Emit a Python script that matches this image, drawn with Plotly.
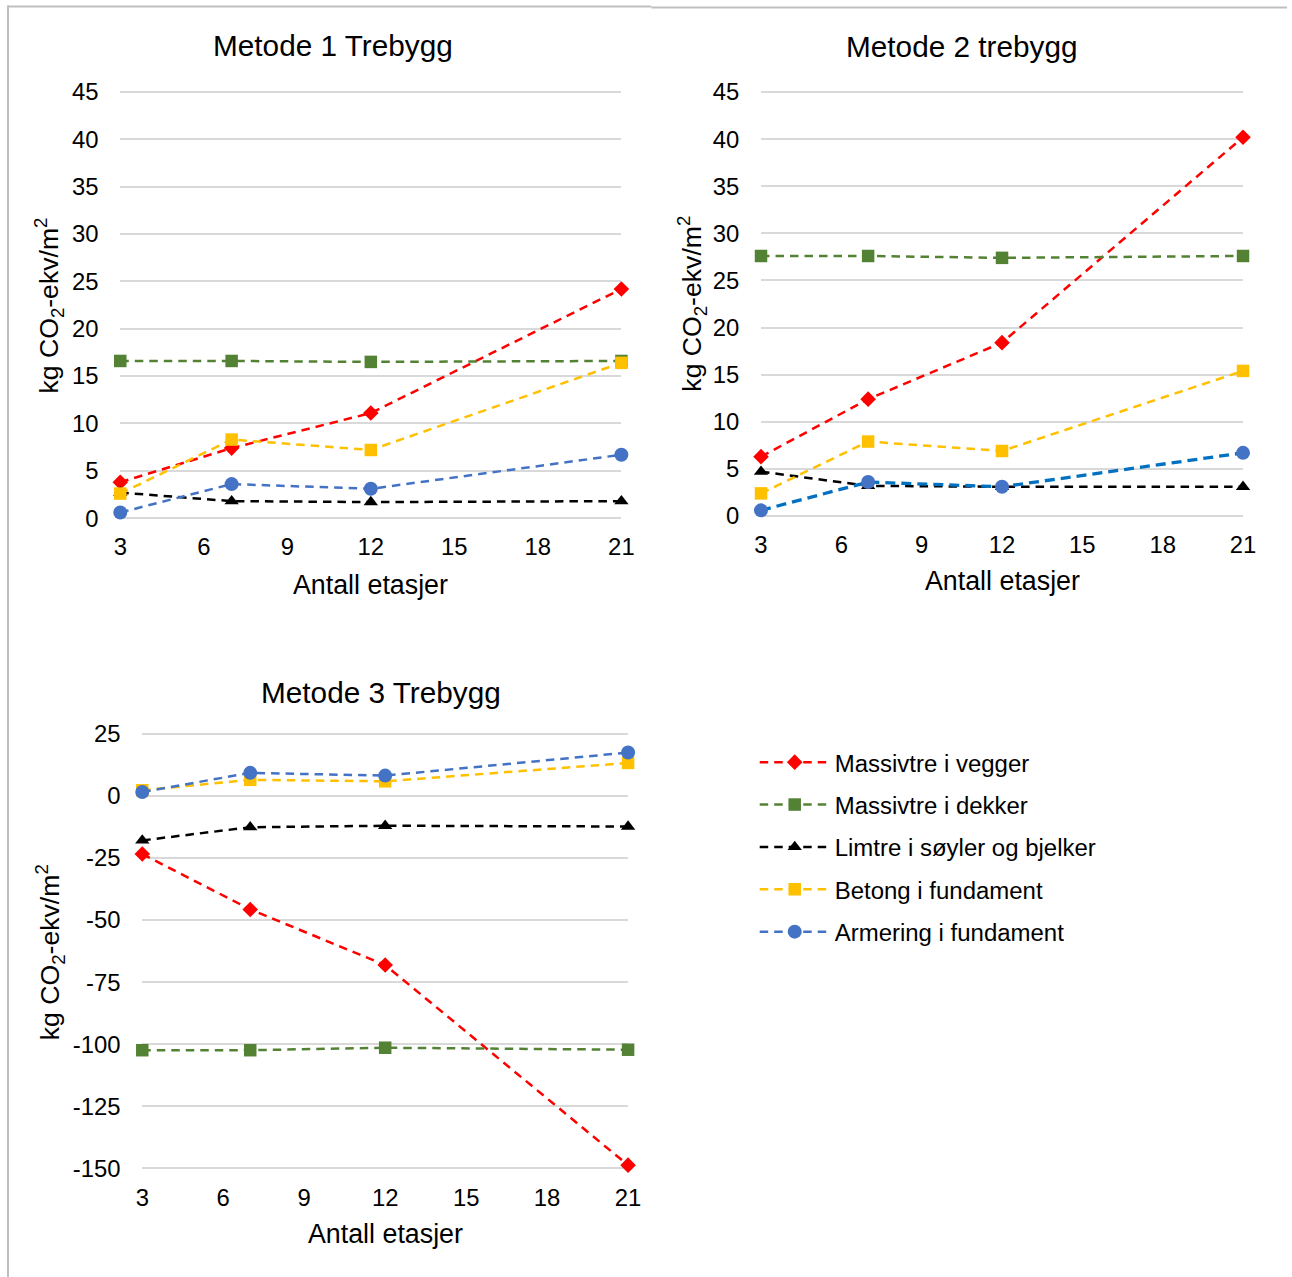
import plotly.graph_objects as go

# Figure canvas size and the measured placement of the figure on the final picture
FW, FH = 1300, 1290
SX, OX = 0.9844, 6.75
SY, OY = 0.9826, 11.6

floors = [3, 7, 12, 21]
x_ticks = [3, 6, 9, 12, 15, 18, 21]

series_names = ["Massivtre i vegger", "Massivtre i dekker", "Limtre i søyler og bjelker",
                "Betong i fundament", "Armering i fundament"]

m1_vegger = [3.8, 7.4, 11.1, 24.2]
m1_dekker = [16.6, 16.6, 16.5, 16.6]
m1_limtre = [2.7, 1.8, 1.7, 1.8]
m1_betong = [2.6, 8.3, 7.2, 16.4]
m1_armering = [0.6, 3.6, 3.1, 6.7]

m2_vegger = [6.3, 12.4, 18.4, 40.2]
m2_dekker = [27.6, 27.6, 27.4, 27.6]
m2_limtre = [4.7, 3.2, 3.1, 3.1]
m2_betong = [2.4, 7.9, 6.9, 15.4]
m2_armering = [0.6, 3.6, 3.1, 6.7]

m3_vegger = [-23.4, -45.7, -68.1, -148.7]
m3_dekker = [-102.4, -102.4, -101.4, -102.2]
m3_limtre = [-17.9, -12.6, -12.0, -12.3]
m3_betong = [2.3, 6.5, 5.9, 13.3]
m3_armering = [1.6, 9.3, 8.2, 17.5]

y12_ticks = [0, 5, 10, 15, 20, 25, 30, 35, 40, 45]
y3_ticks = [25, 0, -25, -50, -75, -100, -125, -150]
y3_ticktext = ["25", "0", "-25", "-50", "-75", "-100", "-125", "-150"]

titles = ["Metode 1 Trebygg", "Metode 2 trebygg", "Metode 3 Trebygg"]
x_title = "Antall etasjer"
y_title = "kg CO<sub>2</sub>-ekv/m<sup>2</sup>"

FONT = "Liberation Sans, Arial, sans-serif"

colors = ["#FF0000", "#548235", "#000000", "#FFC000", "#4472C4"]
symbols = ["diamond", "square", "triangle-up", "square", "circle"]
msizes = [12, 12.5, 12.5, 12.5, 14]


def fx(x):
    """target picture x (px) -> figure x (px)"""
    return (x - OX) / SX


def fy(y):
    return (y - OY) / SY


def pxx(x):
    return fx(x) / FW


def pxy(y):
    return 1 - fy(y) / FH


def fs(size):
    return size / SX


def xdomain(p_lo, p_hi):
    return [pxx(p_lo), pxx(p_hi)]


def ydomain(v1, p1, v2, p2, lo, hi):
    k = (p2 - p1) / (v2 - v1)
    a = p1 + (lo - v1) * k
    b = p1 + (hi - v1) * k
    return [pxy(max(a, b)), pxy(min(a, b))]


panels = [
    dict(data=[m1_vegger, m1_dekker, m1_limtre, m1_betong, m1_armering],
         xd=xdomain(120, 621), yd=ydomain(0, 518, 45, 91.6, -0.2, 45.2), yr=[-0.2, 45.2],
         yt=y12_ticks, ytt=[str(v) for v in y12_ticks]),
    dict(data=[m2_vegger, m2_dekker, m2_limtre, m2_betong, m2_armering],
         xd=xdomain(760.6, 1242.5), yd=ydomain(0, 515.8, 45, 91.7, -0.2, 45.2), yr=[-0.2, 45.2],
         yt=y12_ticks, ytt=[str(v) for v in y12_ticks]),
    dict(data=[m3_vegger, m3_dekker, m3_limtre, m3_betong, m3_armering],
         xd=xdomain(142, 627.7), yd=ydomain(25, 733.8, -150, 1168.5, -150.8, 25.8), yr=[-150.8, 25.8],
         yt=y3_ticks, ytt=y3_ticktext),
]

fig = go.Figure()

for pi, p in enumerate(panels):
    sfx = "" if pi == 0 else str(pi + 1)
    for si, vals in enumerate(p["data"]):
        lc = colors[si]
        lw = 2.5
        dash = "8.5px,6px"
        if pi == 1 and si == 4:
            lc = "#0070C0"
            lw = 3.3
            dash = "10px,6px"
        fig.add_trace(go.Scatter(
            x=floors, y=vals, mode="lines+markers",
            name=series_names[si],
            line=dict(color=lc, width=lw, dash=dash),
            marker=dict(color=colors[si], symbol=symbols[si], size=msizes[si], line=dict(width=0)),
            xaxis="x" + sfx, yaxis="y" + sfx,
            cliponaxis=False,
            showlegend=(pi == 2),
            legendgroup=series_names[si],
        ))

layout = dict(
    width=FW, height=FH,
    margin=dict(l=0, r=0, t=0, b=0),
    paper_bgcolor="white", plot_bgcolor="white",
    font=dict(family=FONT, color="#000000", size=23),
    showlegend=True,
    legend=dict(
        x=pxx(754.3), y=pxy(740), xanchor="left", yanchor="top",
        font=dict(size=fs(23.6), family=FONT, color="#000000"),
        itemwidth=70, tracegroupgap=8.2, traceorder="grouped",
        bgcolor="rgba(0,0,0,0)",
    ),
)

for pi, p in enumerate(panels):
    sfx = "" if pi == 0 else str(pi + 1)
    layout["xaxis" + sfx] = dict(
        domain=p["xd"], anchor="y" + sfx, range=[3, 21],
        tickmode="array", tickvals=x_ticks, ticktext=[str(v) for v in x_ticks],
        showgrid=False, zeroline=False, showline=False,
        ticks="outside", ticklen=5.5, tickcolor="rgba(0,0,0,0)",
        tickfont=dict(size=fs(23.5), family=FONT, color="#000000"),
    )
    layout["yaxis" + sfx] = dict(
        domain=p["yd"], anchor="x" + sfx, range=p["yr"],
        tickmode="array", tickvals=p["yt"], ticktext=p["ytt"],
        showgrid=True, gridcolor="#D9D9D9", gridwidth=1.5,
        zeroline=False, showline=False,
        ticks="outside", ticklen=16, tickcolor="rgba(0,0,0,0)",
        tickfont=dict(size=fs(23.5), family=FONT, color="#000000"),
    )

fig.update_layout(**layout)

ann = []
title_pos = [(333, 45), (962, 46), (381, 692)]
xt_pos = [(370, 585), (1002, 581), (385, 1234)]
yt_pos = [(49, 305), (692, 303), (50, 952)]
for i in range(3):
    ann.append(dict(text=titles[i], x=pxx(title_pos[i][0]), y=pxy(title_pos[i][1]),
                    xref="paper", yref="paper", showarrow=False, xanchor="center", yanchor="middle",
                    font=dict(size=fs(29.3), family=FONT, color="#000000")))
    ann.append(dict(text=x_title, x=pxx(xt_pos[i][0]), y=pxy(xt_pos[i][1]),
                    xref="paper", yref="paper", showarrow=False, xanchor="center", yanchor="middle",
                    font=dict(size=fs(26.4), family=FONT, color="#000000")))
    ann.append(dict(text=y_title, x=pxx(yt_pos[i][0]), y=pxy(yt_pos[i][1]),
                    xref="paper", yref="paper", showarrow=False, xanchor="center", yanchor="middle",
                    textangle=-90, font=dict(size=fs(26.2), family=FONT, color="#000000")))
fig.update_layout(annotations=ann)

border = "#BFBFBF"
lx = max(fx(5.5), 1)
fig.update_layout(shapes=[
    dict(type="line", xref="paper", yref="paper", x0=lx / FW, x1=lx / FW, y0=0, y1=pxy(5),
         line=dict(color=border, width=2)),
    dict(type="line", xref="paper", yref="paper", x0=lx / FW, x1=pxx(651), y0=pxy(6), y1=pxy(6),
         line=dict(color=border, width=2)),
    dict(type="line", xref="paper", yref="paper", x0=pxx(651), x1=1, y0=pxy(7), y1=pxy(7),
         line=dict(color=border, width=2)),
])

fig.write_html("out.html")
